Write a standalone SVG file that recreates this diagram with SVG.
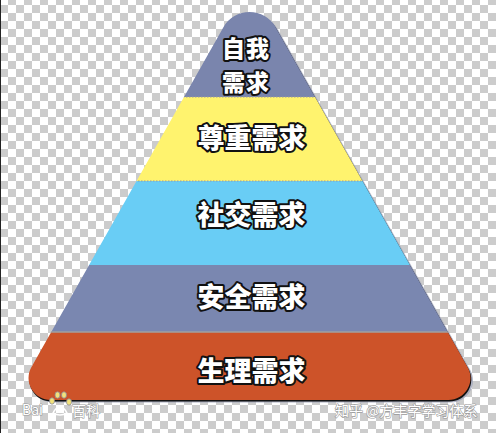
<svg xmlns="http://www.w3.org/2000/svg" width="496" height="433" viewBox="0 0 496 433">
  <defs>
    <pattern id="checker" x="0" y="-3" width="16" height="16" patternUnits="userSpaceOnUse">
      <rect x="0" y="0" width="16" height="16" fill="#ffffff"/>
      <rect x="8" y="0" width="8" height="8" fill="#cccccc"/>
      <rect x="0" y="8" width="8" height="8" fill="#cccccc"/>
    </pattern>
    <path id="pyr" d="M 223.4 27.2 A 30 30 0 0 1 275.6 27.2 L 467.65 367.2 A 22 22 0 0 1 448.5 400 L 50.5 400 A 22 22 0 0 1 31.35 367.2 Z"/>
    <clipPath id="pyrClip"><use href="#pyr"/></clipPath>
    <style>
      .lbl { font-family: "Noto Sans CJK SC", "Noto Sans", sans-serif; font-weight: 900; fill: #ffffff; stroke: #111111; stroke-width: 4; stroke-linejoin: round; paint-order: stroke; text-anchor: middle; }
      .wm { font-family: "Noto Sans CJK SC", "Noto Sans", sans-serif; font-size: 14px; fill: #ffffff; stroke: #9a9a9a; stroke-width: 1.2; paint-order: stroke; }
      .sep { stroke: #9a9aa0; stroke-width: 1; stroke-dasharray: 1.5 1.5; }
    </style>
  </defs>

  <rect x="0" y="0" width="496" height="433" fill="url(#checker)"/>
  <rect x="0" y="0" width="1" height="433" fill="#222222"/>

  <g id="pyramid-shadow">
    <use href="#pyr" transform="translate(2.5,2.5)" fill="#9ea3b8" opacity="0.8"/>
    <use href="#pyr" transform="translate(0.8,1.6)" fill="#111111"/>
  </g>

  <g clip-path="url(#pyrClip)">
    <g id="layer-self">
      <rect x="0" y="0" width="496" height="97" fill="#7a85ad"/>
    </g>
    <g id="layer-esteem">
      <rect x="0" y="97" width="496" height="84" fill="#fff36e"/>
    </g>
    <g id="layer-social">
      <rect x="0" y="181" width="496" height="84" fill="#69cdf5"/>
    </g>
    <g id="layer-safety">
      <rect x="0" y="265" width="496" height="67" fill="#7a87b0"/>
    </g>
    <g id="layer-physio">
      <rect x="0" y="332" width="496" height="80" fill="#cd5329"/>
    </g>
    <g id="connectors">
      <line class="sep" x1="0" y1="97" x2="496" y2="97"/>
      <line class="sep" x1="0" y1="181" x2="496" y2="181"/>
      <line x1="0" y1="332" x2="496" y2="332" stroke="#a0a0a0" stroke-width="1.5"/>
    </g>
  </g>

  <g id="label-self">
    <text class="lbl" x="246" y="57" font-size="23" letter-spacing="1"><tspan x="246" y="57">自我</tspan><tspan x="246" y="91">需求</tspan></text>
  </g>
  <g id="label-esteem"><text class="lbl" x="251.5" y="148" font-size="27">尊重需求</text></g>
  <g id="label-social"><text class="lbl" x="251.5" y="225" font-size="27">社交需求</text></g>
  <g id="label-safety"><text class="lbl" x="251.5" y="307" font-size="27">安全需求</text></g>
  <g id="label-physio"><text class="lbl" x="251.5" y="381" font-size="27">生理需求</text></g>

  <g id="watermark-left">
    <text class="wm" x="22" y="415">Bai</text>
    <g fill="#f2e27a" stroke="#8a8a9a" stroke-width="0.8">
      <ellipse cx="52" cy="401" rx="2.5" ry="3.2"/>
      <ellipse cx="57.5" cy="395" rx="2.5" ry="3.2"/>
      <ellipse cx="64" cy="395" rx="2.5" ry="3.2"/>
      <ellipse cx="69" cy="402" rx="2.5" ry="3.2"/>
    </g>
    <path d="M 53 413 Q 60 400 67 413 Q 60 417 53 413 Z" fill="none" stroke="#ffffff" stroke-width="1.5"/>
    <text class="wm" x="72" y="416">百科</text>
  </g>
  <g id="watermark-right">
    <text class="wm" x="335" y="416">知乎 @方丰字学习体系</text>
  </g>
</svg>
